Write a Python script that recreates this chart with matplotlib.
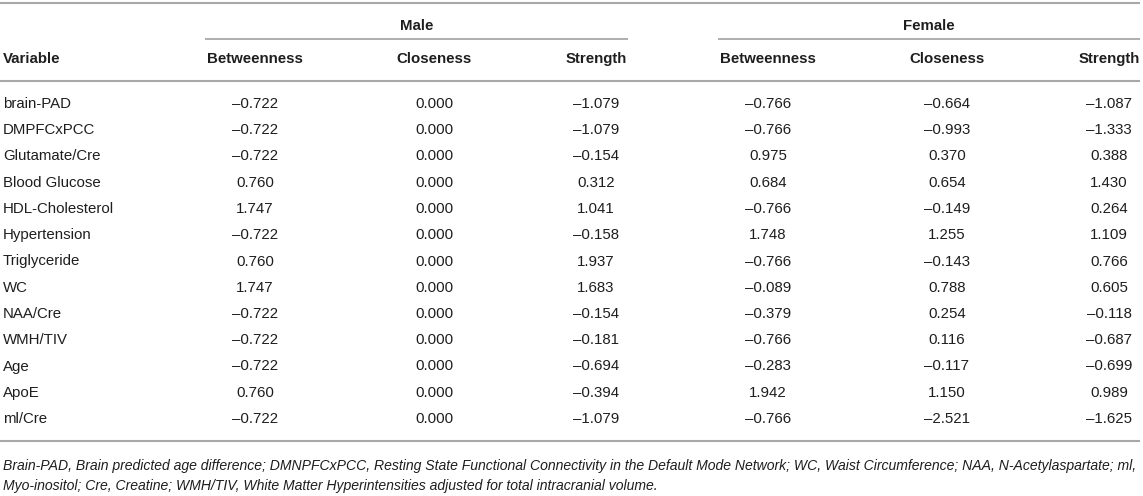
import matplotlib
matplotlib.use("Agg")
import matplotlib.pyplot as plt

variables = ["brain-PAD", "DMPFCxPCC", "Glutamate/Cre", "Blood Glucose", "HDL-Cholesterol",
             "Hypertension", "Triglyceride", "WC", "NAA/Cre", "WMH/TIV", "Age", "ApoE", "ml/Cre"]
male_betweenness = [-0.722, -0.722, -0.722, 0.760, 1.747, -0.722, 0.760, 1.747, -0.722, -0.722, -0.722, 0.760, -0.722]
male_closeness = [0.000] * 13
male_strength = [-1.079, -1.079, -0.154, 0.312, 1.041, -0.158, 1.937, 1.683, -0.154, -0.181, -0.694, -0.394, -1.079]
female_betweenness = [-0.766, -0.766, 0.975, 0.684, -0.766, 1.748, -0.766, -0.089, -0.379, -0.766, -0.283, 1.942, -0.766]
female_closeness = [-0.664, -0.993, 0.370, 0.654, -0.149, 1.255, -0.143, 0.788, 0.254, 0.116, -0.117, 1.150, -2.521]
female_strength = [-1.087, -1.333, 0.388, 1.430, 0.264, 1.109, 0.766, 0.605, -0.118, -0.687, -0.699, 0.989, -1.625]
group_labels = ["Male", "Female"]
column_labels = ["Betweenness", "Closeness", "Strength"]
footnote = ["Brain-PAD, Brain predicted age difference; DMNPFCxPCC, Resting State Functional Connectivity in the Default Mode Network; WC, Waist Circumference; NAA, N-Acetylaspartate; ml,",
            "Myo-inositol; Cre, Creatine; WMH/TIV, White Matter Hyperintensities adjusted for total intracranial volume."]

plt.rcParams['font.family'] = ['Liberation Sans', 'DejaVu Sans']
W, H = 1143, 496
fig = plt.figure(figsize=(W / 100, H / 100), dpi=100)
ax = fig.add_axes([0, 0, 1, 1])
ax.set_xlim(0, W)
ax.set_ylim(H, 0)
ax.axis("off")

txt = "#1e1e1e"
line_c = "#a8a8a8"
fs = 10.8

def fmt(v):
    s = f"{abs(v):.3f}"
    return ("\u2013" + s) if v < 0 else s

col_x = [255, 434, 596, 768, 947, 1109]
groups = [(205, 628), (718, 1140)]
right = 1140

# rules
ax.plot([0, right], [3, 3], color=line_c, lw=1.5, solid_capstyle="butt")
for (x0, x1) in groups:
    ax.plot([x0, x1], [39, 39], color=line_c, lw=1.3, solid_capstyle="butt")
ax.plot([0, right], [81, 81], color=line_c, lw=1.5, solid_capstyle="butt")
ax.plot([0, right], [441, 441], color=line_c, lw=1.5, solid_capstyle="butt")

for g, (x0, x1) in zip(group_labels, groups):
    ax.text((x0 + x1) / 2, 26, g, ha="center", va="center", fontsize=fs, fontweight="bold", color=txt)

ax.text(3, 59, "Variable", ha="left", va="center", fontsize=fs, fontweight="bold", color=txt)
for i, x in enumerate(col_x):
    ax.text(x, 59, column_labels[i % 3], ha="center", va="center", fontsize=fs, fontweight="bold", color=txt)

cols = [male_betweenness, male_closeness, male_strength, female_betweenness, female_closeness, female_strength]
for r, name in enumerate(variables):
    y = 104 + 26.25 * r
    ax.text(3, y, name, ha="left", va="center", fontsize=fs, color=txt)
    for x, col in zip(col_x, cols):
        ax.text(x, y, fmt(col[r]), ha="center", va="center", fontsize=fs, color=txt)

ax.text(3, 466, footnote[0], ha="left", va="center", fontsize=10.1, style="italic", color=txt)
ax.text(3, 486, footnote[1], ha="left", va="center", fontsize=10.1, style="italic", color=txt)

fig.savefig("out.png", dpi=100)
